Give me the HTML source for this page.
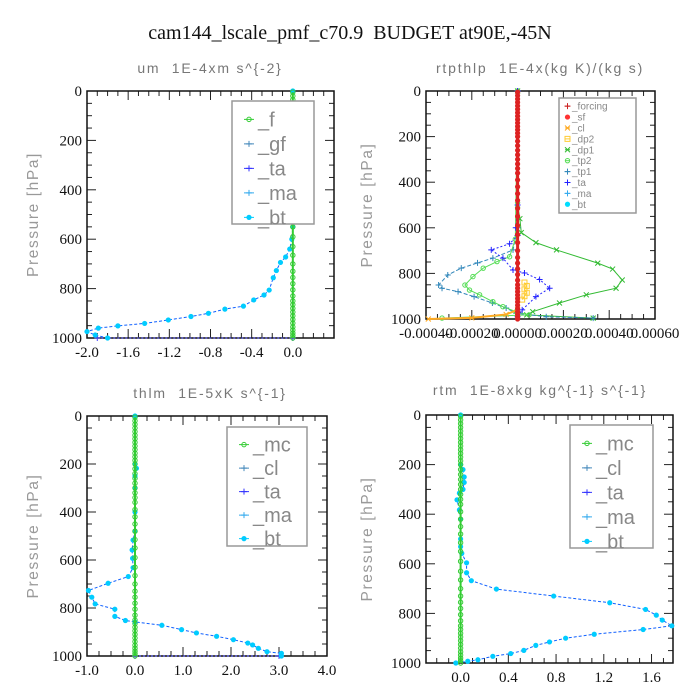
<!DOCTYPE html>
<html><head><meta charset="utf-8">
<style>
html,body{margin:0;padding:0;background:#fff;width:700px;height:700px;overflow:hidden}
svg text{font-family:"Liberation Serif",serif;white-space:pre}
.ttl{font-family:"Liberation Sans",sans-serif;fill:#777;font-size:14px;letter-spacing:1.8px}
.yl{font-family:"Liberation Sans",sans-serif;fill:#999;font-size:15.5px;letter-spacing:1.6px}
.tk{font-size:15px;fill:#111}
.lg{font-family:"Liberation Sans",sans-serif;fill:#888}
</style></head><body>
<svg id="c" width="700" height="700" viewBox="0 0 700 700" xmlns="http://www.w3.org/2000/svg">
<text x="350" y="39" text-anchor="middle" font-size="20" fill="#111" xml:space="preserve">cam144_lscale_pmf_c70.9  BUDGET at90E,-45N</text>
</svg>
<script>
// shared vertical levels (hPa) for near-zero profiles
const levels=[5,20,35,50,65,80,95,110,125,140,155,170,185,200,220,240,260,280,300,320,340,360,390,420,450,480,515,550,590,630,665,700,730,755,780,805,830,850,865,880,895,910,925,940,955,968,980,990,1000];
// Panel 1: um
const umP=[0,100,200,250,280,310,340,370,400,450,500,550,600,640,672,694,727,756,806,826,846,871,883,900,913,927,941,951,960,974,988,1000];
const umV=[0,0,0,-0.03,-0.02,0.02,0.03,0.02,0,0,0,0,-0.01,-0.03,-0.07,-0.12,-0.16,-0.19,-0.23,-0.28,-0.38,-0.48,-0.66,-0.82,-0.99,-1.21,-1.44,-1.70,-1.89,-2.0,-1.92,-1.80];
// Panel 2: rtpthlp
const dp1P=[0,500,560,621,665,697,755,781,829,865,894,930,968,982,996];
const dp1V=[0,0,0.00001,0.000016,0.00008,0.00017,0.00035,0.000415,0.000457,0.00043,0.0003,0.000183,0.000066,0.00004,0.00033];
const tp1P=[0,600,697,733,754,777,807,851,865,880,902,930,952,975,990,996];
const tp1V=[0,0,-0.00002,-0.000108,-0.000175,-0.000246,-0.000305,-0.000345,-0.00033,-0.00026,-0.00019,-0.00011,-0.00005,-0.000006,0.000125,0.00033];
const tp2P=[0,650,727,748,777,814,851,873,894,924,946,968,982,996];
const tp2V=[0,-0.00001,-0.000035,-0.00009,-0.00015,-0.000195,-0.00023,-0.00021,-0.000166,-0.000108,-0.000064,-0.000006,0.00005,-0.00033];
const taP=[0,500,600,634,670,697,733,785,798,827,865,902,960,990];
const taV=[0,0,-0.000008,0,-0.000035,-0.000115,-0.000064,-0.00002,0.00003,0.000096,0.00014,0.00008,0.00002,0];
const dp2P=[840,855,870,885,900,915];
const dp2V=[0.00003,0.00004,0.00003,0.00004,0.00003,0.00002];
const clP=[960,980,995,1000];
const clV=[0,-0.00005,-0.0002,-0.00039];
// Panel 3: thlm
const thP=[0,200,218,250,300,400,480,517,558,593,632,669,697,727,755,783,805,835,852,858,872,890,904,918,932,946,954,968,982,989,1000];
const thV=[0,0,0.03,0,0,0,0,-0.04,-0.06,-0.05,-0.04,-0.14,-0.56,-0.97,-0.9,-0.83,-0.42,-0.42,-0.2,0,0.56,0.97,1.28,1.7,2.05,2.35,2.45,2.57,2.75,3.05,3.05];
// Panel 4: rtm
const rtP=[0,200,220,250,272,300,315,342,383,420,500,531,558,596,636,668,702,730,757,784,807,827,850,865,884,900,915,929,949,962,973,987,993,1000];
const rtV=[0,0,0.02,0.03,0.03,0.02,-0.01,-0.03,-0.01,0,0,0,0.01,0.05,0.05,0.09,0.3,0.78,1.25,1.55,1.64,1.69,1.77,1.53,1.12,0.88,0.745,0.63,0.53,0.42,0.27,0.145,0.06,-0.04];
const ticksUM=[-2.0,-1.6,-1.2,-0.8,-0.4,0.0];
const ticksRT=[-0.0004,-0.0002,0,0.0002,0.0004,0.0006];
const ticksTH=[-1.0,0.0,1.0,2.0,3.0,4.0];
const ticksRTM=[0.0,0.4,0.8,1.2,1.6];
const yTicks=[0,200,400,600,800,1000];

const svg=document.getElementById('c');
const NS='http://www.w3.org/2000/svg';
function mk(tag,attrs,parent){const e=document.createElementNS(NS,tag);for(const k in attrs)e.setAttribute(k,attrs[k]);(parent||svg).appendChild(e);return e;}

function panel(name,b,title,tx,ty,ticks,dec,minorStep,ylx){
  const g=mk('g',{});
  
  
  const X=v=>b.x0+(v-b.xmin)/(b.xmax-b.xmin)*(b.x1-b.x0);
  const Y=p=>b.y0+p/1000*(b.y1-b.y0);
  const t=mk('text',{x:tx,y:ty,'text-anchor':'middle','class':'ttl'},g);t.textContent=title;
  
  
  const yl=mk('text',{x:0,y:0,'text-anchor':'middle','class':'yl',transform:`translate(${ylx},${(b.y0+b.y1)/2}) rotate(-90)`},g);yl.textContent='Pressure [hPa]';
  
  
  for(let p=0;p<=1000;p+=50){
    const L=p%200===0?9:5;
    mk('line',{x1:b.x0,x2:b.x0+L,y1:Y(p),y2:Y(p),stroke:'#222','stroke-width':1},g);
    mk('line',{x1:b.x1,x2:b.x1-L,y1:Y(p),y2:Y(p),stroke:'#222','stroke-width':1},g);
  }
  yTicks.forEach(p=>{const e=mk('text',{x:b.x0-5,y:Y(p)+5,'text-anchor':'end','class':'tk'},g);e.textContent=p;
    
    });
  const n0=Math.ceil(b.xmin/minorStep-1e-6), n1=Math.floor(b.xmax/minorStep+1e-6);
  for(let i=n0;i<=n1;i++){const v=i*minorStep;const maj=ticks.some(t=>Math.abs(t-v)<minorStep/10);const L=maj?9:5;
    mk('line',{x1:X(v),x2:X(v),y1:b.y1,y2:b.y1-L,stroke:'#222'},g);
    mk('line',{x1:X(v),x2:X(v),y1:b.y0,y2:b.y0+L,stroke:'#222'},g);}
  ticks.forEach(v=>{const e=mk('text',{x:X(v),y:b.y1+19,'text-anchor':'middle','class':'tk'},g);e.textContent=v.toFixed(dec);
    
    });
  mk('rect',{x:b.x0,y:b.y0,width:b.x1-b.x0,height:b.y1-b.y0,fill:'none',stroke:'#111','stroke-width':1.5},g);
  return {g,X,Y};
}
function series(ax,P,V,color,dash,marker,mcolor,name,w){
  const pts=P.map((p,i)=>[ax.X(V[i]),ax.Y(p)]);
  const pl=mk('polyline',{points:pts.map(q=>q.join(',')).join(' '),fill:'none',stroke:color,'stroke-width':w||1,'stroke-dasharray':dash||''},ax.g);
  
  
  pts.forEach(q=>drawMarker(ax.g,q[0],q[1],marker,mcolor||color));
}
function drawMarker(g,x,y,m,c){
  if(m==='dot')mk('circle',{cx:x,cy:y,r:2.6,fill:c},g);
  else if(m==='circ')mk('circle',{cx:x,cy:y,r:2.2,fill:'none',stroke:c,'stroke-width':1},g);
  else if(m==='plus'){mk('path',{d:`M${x-3},${y}H${x+3}M${x},${y-3}V${y+3}`,stroke:c,'stroke-width':1},g);}
  else if(m==='x'){mk('path',{d:`M${x-2.5},${y-2.5}L${x+2.5},${y+2.5}M${x-2.5},${y+2.5}L${x+2.5},${y-2.5}`,stroke:c,'stroke-width':1},g);}
  else if(m==='sq')mk('rect',{x:x-2.5,y:y-2.5,width:5,height:5,fill:'none',stroke:c},g);
}
function zeroLine(ax,color,marker,name,w){
  series(ax,levels,levels.map(()=>0),color,'',marker,color,name,w);
}
function legend(ax,x,y,w,h,items,fs,gap,name){
  const r=mk('rect',{x,y,width:w,height:h,fill:'#fff',stroke:'#999','stroke-width':1.5},ax.g);
  
  
  items.forEach((it,i)=>{const cy=y+gap*0.75+i*gap;
    mk('line',{x1:x+fs*0.6,x2:x+fs*1.1,y1:cy,y2:cy,stroke:it[1]},ax.g);
    drawMarker(ax.g,x+fs*0.85,cy,it[2],it[1]);
    const t=mk('text',{x:x+fs*1.3,y:cy+fs*0.35,'class':'lg','font-size':fs},ax.g);t.textContent=it[0];
    
    });
}
// Panel 1
const a1=panel('um',{x0:87,x1:334,y0:91,y1:338,xmin:-2.0,xmax:0.4},'um  1E-4xm s^{-2}',210,73,ticksUM,1,0.1,38);
series(a1,[1000,1000],[-1.9,0],'#4444ff','2,2','plus','#4444ff','um-ta-surface');
series(a1,umP,umV,'#1060ff','3,2','dot','#00ccff','um-bt-line');
zeroLine(a1,'#33cc33','circ','um-f-line',2);
legend(a1,232,101,82,123,[['_f','#33cc33','circ'],['_gf','#4488bb','plus'],['_ta','#3333ff','plus'],['_ma','#33aaee','plus'],['_bt','#00ccff','dot']],20,24.5,'um-legend');
// Panel 2
const a2=panel('rtpthlp',{x0:426,x1:655,y0:91,y1:319,xmin:-0.0004,xmax:0.0006},'rtpthlp  1E-4x(kg K)/(kg s)',540,73,ticksRT,5,0.00005,372);
series(a2,dp1P,dp1V,'#33bb33','','x','#33bb33','dp1-line');
series(a2,tp1P,tp1V,'#3388bb','4,2','plus','#3388bb','tp1-line');
series(a2,tp2P,tp2V,'#55dd55','','circ','#55dd55','tp2-line');
series(a2,taP,taV,'#2222ff','2,2','plus','#2222ff','ta-line');
series(a2,dp2P,dp2V,'#ffcc33','','sq','#ffcc33','dp2-line');
series(a2,clP,clV,'#ffaa22','','x','#ffaa22','cl-line',2);
zeroLine(a2,'#dd2222','dot','forcing-line',3);
legend(a2,559,98,77,115,[['_forcing','#cc2222','plus'],['_sf','#ff3333','dot'],['_cl','#ffaa22','x'],['_dp2','#ffcc33','sq'],['_dp1','#33bb33','x'],['_tp2','#55dd55','circ'],['_tp1','#3388bb','plus'],['_ta','#2222ff','plus'],['_ma','#33aaee','plus'],['_bt','#00ddff','dot']],10,10.9,'rtpthlp-legend');
// Panel 3
const a3=panel('thlm',{x0:87,x1:327,y0:416,y1:656,xmin:-1,xmax:4},'thlm  1E-5xK s^{-1}',210,398,ticksTH,1,0.25,38);
series(a3,[1000,1000],[0,3.0],'#4444ff','2,2','plus','#4444ff','thlm-ta-surface');
series(a3,thP,thV,'#1060ff','3,2','dot','#00ccff','thlm-bt-line');
zeroLine(a3,'#33cc33','circ','thlm-mc-line',2);
legend(a3,227,427,80,119,[['_mc','#33cc33','circ'],['_cl','#4488bb','plus'],['_ta','#3333ff','plus'],['_ma','#33aaee','plus'],['_bt','#00ccff','dot']],20,23.5,'thlm-legend');
// Panel 4
const a4=panel('rtm',{x0:426,x1:673,y0:415,y1:663,xmin:-0.29,xmax:1.78},'rtm  1E-8xkg kg^{-1} s^{-1}',540,395,ticksRTM,1,0.1,372);
series(a4,rtP,rtV,'#1060ff','3,2','dot','#00ccff','rtm-bt-line');
zeroLine(a4,'#33cc33','circ','rtm-mc-line',2);
legend(a4,570,425,83,123,[['_mc','#33cc33','circ'],['_cl','#4488bb','plus'],['_ta','#3333ff','plus'],['_ma','#33aaee','plus'],['_bt','#00ccff','dot']],20,24.5,'rtm-legend');
</script>
</body></html>
